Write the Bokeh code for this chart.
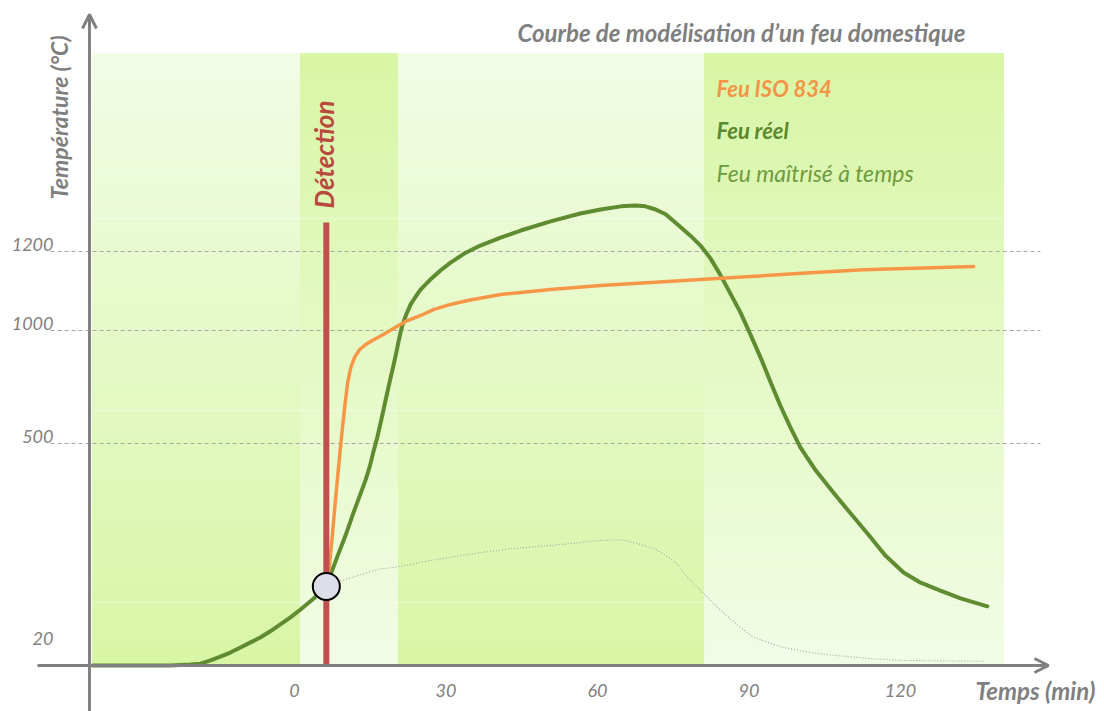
import numpy as np
from bokeh.plotting import figure
from bokeh.models import Range1d, Arrow, OpenHead, Label
from bokeh.embed import file_html
from bokeh.resources import INLINE
from bokeh.core.properties import value

# ---------------- data (time in minutes, temperature in °C) ----------------
time_reel = [-40.0, -28.5, -24.6, -20.6, -18.6, -16.6, -14.7, -12.7, -10.7, -8.7, -6.7,
             -4.8, -2.8, -0.8, 1.2, 3.8, 6.3,
             7.3, 8.5, 10.1, 11.7, 13.3, 14.1, 14.9, 15.6, 16.4, 17.2, 18.2, 19.0,
             19.6, 20.2, 20.6, 21.0, 21.4, 22.2, 23.0, 24.0, 25.0, 26.9, 28.9, 30.9,
             33.9, 36.8, 40.8, 44.8, 50.7, 56.6, 60.6, 64.6, 67.5, 69.5, 71.5, 73.5,
             75.4, 78.4, 80.4, 82.4, 84.4, 86.3, 88.3, 90.3, 92.3, 94.3, 96.2, 98.2,
             100.2, 103.2, 106.7, 110.1, 113.5, 117.0, 120.6, 124.0, 127.9, 131.9, 137.2]
temp_reel = [20, 20, 20, 22, 24, 31, 39, 48, 59, 70, 81,
             94, 109, 124, 141, 165, 191,
             221, 256, 301, 351, 398, 422, 450, 481, 527, 606, 708, 788,
             845, 907, 951, 991, 1015, 1043, 1066, 1086, 1104, 1129, 1152, 1172,
             1197, 1215, 1235, 1253, 1276, 1296, 1306, 1314, 1316, 1314, 1306, 1294,
             1273, 1240, 1215, 1182, 1139, 1094, 1046, 982, 880, 770, 668, 571,
             491, 442, 394, 349, 305, 258, 221, 199, 182, 165, 148]

time_iso = [6.3, 6.9, 7.5, 8.1, 8.7, 9.3, 9.9, 10.5, 11.1, 11.9, 12.9, 14.1, 15.4,
            17.6, 20.0, 22.0, 25.0, 27.5, 30.9, 34.3, 40.8, 50.7, 60.6, 73.9, 84.4,
            99.6, 112.7, 134.5]
temp_iso = [191, 236, 301, 377, 446, 527, 655, 765, 832, 881, 916, 938, 956,
            982, 1008, 1023, 1038, 1053, 1066, 1076, 1091, 1104, 1114, 1124, 1132,
            1144, 1154, 1162]

time_maitrise = [6.3, 8.9, 12.7, 16.6, 21.0, 25.9, 30.3, 36.8, 43.4, 53.3, 60.0, 63.2,
                 65.5, 68.5, 71.5, 73.5, 75.4, 78.4, 81.8, 84.4, 87.3, 90.9, 94.3, 96.8,
                 102.2, 106.7, 114.1, 120.0, 136.4]
temp_maitrise = [191, 202, 215, 228, 234, 245, 253, 264, 273, 282, 290, 292,
                 290, 282, 271, 258, 243, 204, 167, 139, 111, 81, 68, 59,
                 48, 42, 35, 31, 29]

detection_time = 6.3
detection_top = 1273

x_ticks = [0, 30, 60, 90, 120]
x_tick_labels = ["0", "30", "60", "90", "120"]
y_ticks = [20, 500, 1000, 1200]
y_tick_labels = ["20", "500", "1000", "1200"]
grid_temps = [500, 1000, 1200]

band_edges = [-40.0, 1.2, 20.6, 81.2, 140.4]   # minutes
band_top_temp = 1700

# schematic (non-linear) temperature axis of the drawing
scale_temps = [20, 500, 1000, 1200, 1700]
scale_heights = [0, 222, 335, 414, 612]


def ty(t):
    return np.interp(np.asarray(t, dtype=float), scale_temps, scale_heights)


# ---------------- figure ----------------
W, H = 1104, 711
p = figure(width=W, height=H, output_backend="svg", toolbar_location=None,
           x_range=Range1d(-58.22, 160.40), y_range=Range1d(-46, 665),
           x_axis_location=None, y_axis_location=None, min_border=0)
p.outline_line_color = None
p.grid.grid_line_color = None
p.background_fill_color = "white"
p.border_fill_color = "white"

GREEN = np.array([216, 246, 166])
LIGHT = np.array([241, 252, 229])

# gradient bands
n = 70
band_top = float(ty(band_top_temp))
hs = np.linspace(0, band_top, n + 1)
L, R, B, T, C = [], [], [], [], []
for i in range(len(band_edges) - 1):
    light_top = (i % 2 == 0)
    for k in range(n):
        f = (k + 0.5) / n  # 0 bottom -> 1 top
        w = f if light_top else 1 - f
        col = GREEN * (1 - w) + LIGHT * w
        L.append(band_edges[i]); R.append(band_edges[i + 1])
        B.append(hs[k]); T.append(hs[k + 1])
        C.append("#%02x%02x%02x" % tuple(int(round(c)) for c in col))
p.quad(left=L, right=R, bottom=B, top=T, fill_color=C, line_color=C, line_width=1)

# faint white strips across the bands
for h in [63, 255, 447]:
    p.segment(x0=band_edges[0], y0=h, x1=band_edges[-1], y1=h,
              line_color="white", line_width=1.5, line_alpha=0.35)

# dashed reference lines
gy = ty(grid_temps)
p.segment(x0=[-48.3] * 3, y0=gy, x1=[147.7] * 3, y1=gy,
          line_color="#a6a6a6", line_width=1.2, line_dash="4 3")

AX = "#808080"
axis_x = -40.6
# axes with arrows
p.add_layout(Arrow(end=OpenHead(size=14, line_color=AX, line_width=3),
                   x_start=axis_x, y_start=-46, x_end=axis_x, y_end=651,
                   line_color=AX, line_width=3))
p.add_layout(Arrow(end=OpenHead(size=14, line_color=AX, line_width=3),
                   x_start=-50.9, y_start=0, x_end=149.3, y_end=0,
                   line_color=AX, line_width=3))

# curves
p.line(time_maitrise, ty(temp_maitrise), line_color="#a3a3a3", line_width=1.1,
       line_dash="1 2")
p.line(time_reel, ty(temp_reel), line_color="#5f8c30", line_width=4,
       line_join="round", line_cap="round")
p.line(time_iso, ty(temp_iso), line_color="#f79646", line_width=3.5,
       line_join="round", line_cap="round")

# detection line and point
p.segment(x0=[detection_time], y0=[0], x1=[detection_time], y1=[ty(detection_top)],
          line_color="#c0504d", line_width=6)
p.scatter([detection_time], [ty(191)], size=27, fill_color="#dcdee8",
          line_color="black", line_width=2)

FONT = "Lato"
# tick labels
p.text(x=x_ticks, y=[0] * len(x_ticks), text=x_tick_labels, y_offset=25,
       text_align="center", text_baseline="middle", text_font=value(FONT),
       text_font_style="italic", text_font_size="18px", text_color=AX)
yoff = [-27 if t == y_ticks[0] else -7 for t in y_ticks]
p.text(x=[axis_x] * len(y_ticks), y=ty(y_ticks), text=y_tick_labels, x_offset=-36,
       y_offset=yoff, text_align="right", text_baseline="middle",
       text_font=value(FONT), text_font_style="italic", text_font_size="18px",
       text_color=AX)


def lab(txt, x, y, size, color, style="bold italic", angle=0, align="left"):
    p.add_layout(Label(x=x, y=H - y, x_units="screen", y_units="screen", text=txt,
                       text_font=FONT, text_font_size=size, text_font_style=style,
                       text_color=color, angle=angle, text_align=align,
                       text_baseline="middle"))


lab("Courbe de modélisation d\u2019un feu domestique", 517, 32, "24px", "#7f7f7f")
lab("Feu ISO 834", 716, 88, "22px", "#f39447")
lab("Feu réel", 716, 130, "22px", "#5b8a2e")
lab("Feu maîtrisé à temps", 716, 172, "23px", "#6d9c3e", style="italic")
lab("Température (°C)", 58, 117, "23px", "#7f7f7f", angle=np.pi / 2, align="center")
lab("Détection", 323, 154, "26px", "#b84a3d", angle=np.pi / 2, align="center")
lab("Temps (min)", 1035, 690, "24px", "#7f7f7f", align="center")

open("out.html", "w").write(file_html(p, INLINE))
